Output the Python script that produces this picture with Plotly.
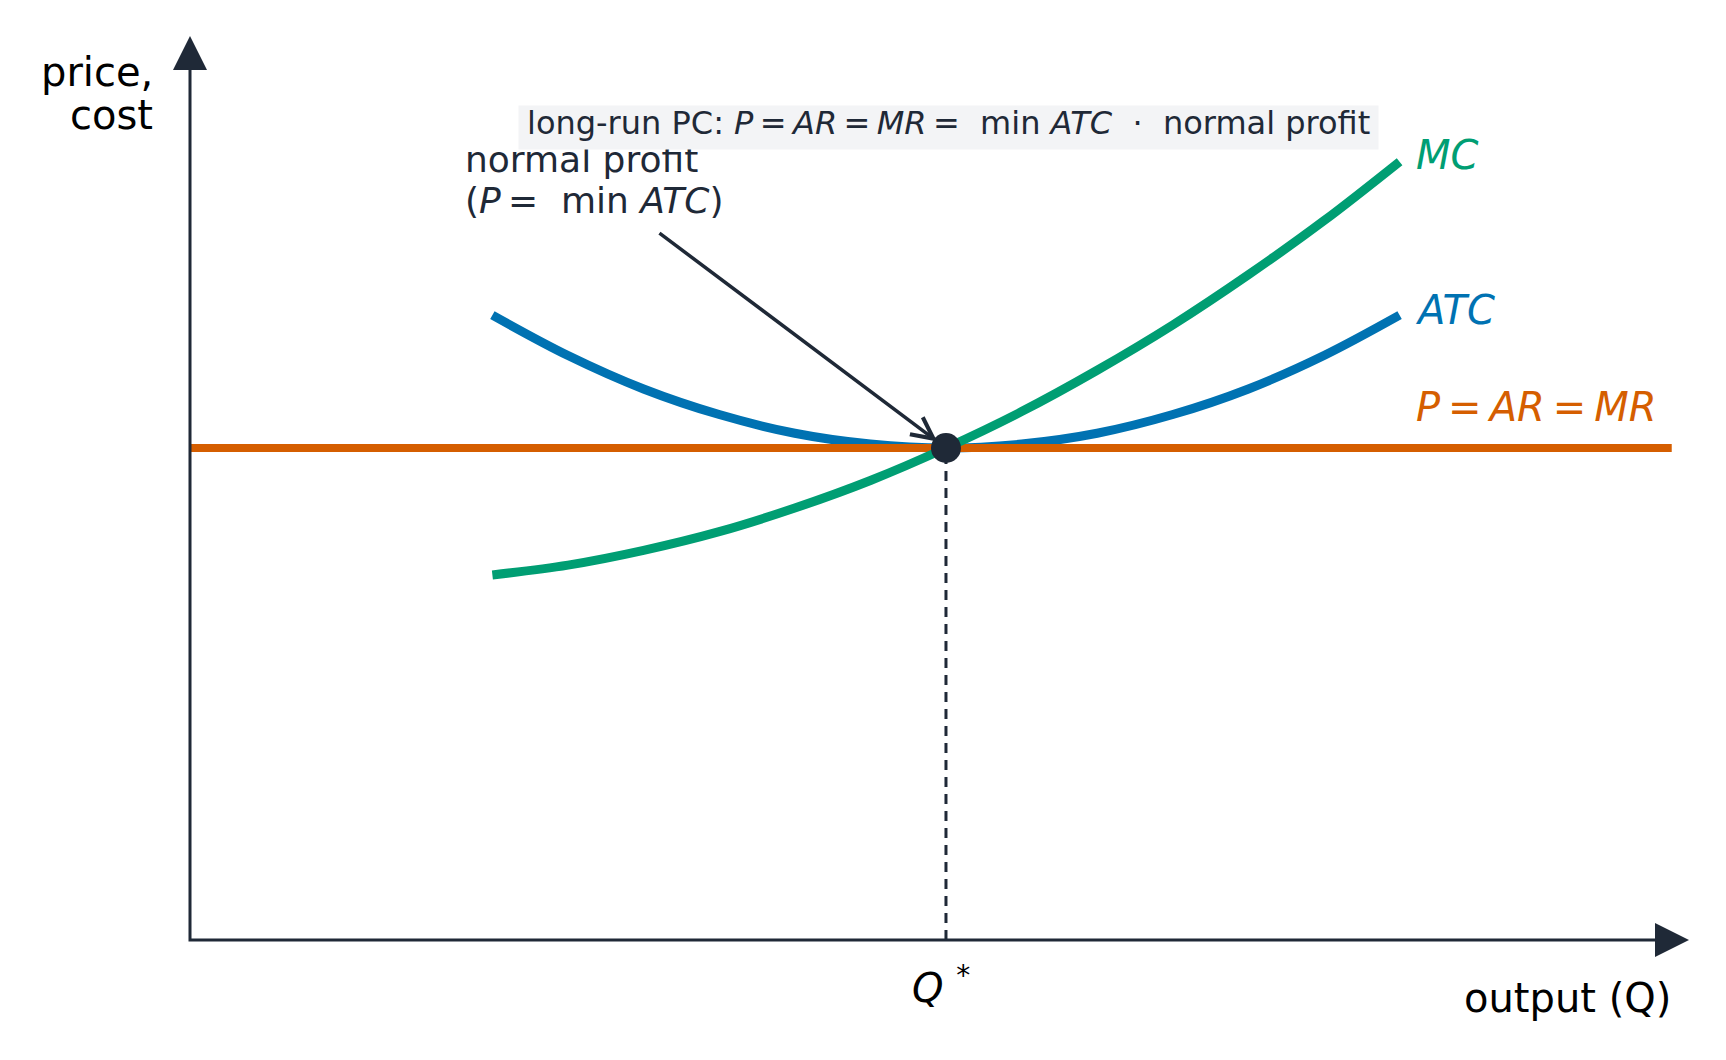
import plotly.graph_objects as go

# long-run perfect competition: firm's cost curves
quantity = [2.0, 2.5, 3.0, 3.5, 4.0, 4.5, 5.0, 5.5, 6.0, 6.5, 7.0, 7.5, 8.0]
atc = [6.35, 5.94, 5.60, 5.34, 5.15, 5.04, 5.00, 5.04, 5.15, 5.34, 5.60, 5.94, 6.35]
mc = [3.71, 3.81, 3.96, 4.15, 4.39, 4.67, 5.00, 5.37, 5.79, 6.25, 6.76, 7.31, 7.91]
price_q = [0.0, 9.8]
price = [5.0, 5.0]
q_star = 5.0
p_star = 5.0

#figure / axis set-up (data units <-> pixels); the page body adds an 8px margin
W, H = 1710, 1044
X_RANGE = [-1.2037, 10.106]
Y_RANGE = [-1.138, 9.4715]
px_x = (X_RANGE[1] - X_RANGE[0]) / W     # data units per pixel
px_y = (Y_RANGE[1] - Y_RANGE[0]) / H
Q_TIP = 9.914   # end of horizontal axis
P_TIP = 9.187   # end of vertical axis

DARK = '#1f2937'
GREEN = '#009E73'
BLUE = '#0072B2'
ORANGE = '#D55E00'
FONT = 'DejaVu Sans'
TS = '\u2009'   # thin space
NB = '\u00a0'

fig = go.Figure()

#curves
fig.add_trace(go.Scatter(x=quantity, y=atc, mode='lines',
                         line=dict(color=BLUE, width=9, shape='spline'),
                         hoverinfo='skip'))
fig.add_trace(go.Scatter(x=price_q, y=price, mode='lines',
                         line=dict(color=ORANGE, width=8),
                         hoverinfo='skip'))
fig.add_trace(go.Scatter(x=quantity, y=mc, mode='lines',
                         line=dict(color=GREEN, width=9, shape='spline'),
                         hoverinfo='skip'))

#dashed drop line to Q*
fig.add_trace(go.Scatter(x=[q_star, q_star], y=[0, p_star], mode='lines',
                         line=dict(color=DARK, width=3, dash='10px,7px'),
                         hoverinfo='skip'))

#axes with arrow heads
fig.add_trace(go.Scatter(x=[0, 0, Q_TIP - 20 * px_x], y=[P_TIP - 20 * px_y, 0, 0],
                         mode='lines', line=dict(color=DARK, width=3),
                         hoverinfo='skip'))
hw_x = 17 * px_x
hw_y = 17 * px_y
head = 34
fig.add_shape(type='path', xref='x', yref='y', line_width=0, fillcolor=DARK,
              path=f'M {-hw_x},{P_TIP - head * px_y} L {hw_x},{P_TIP - head * px_y} '
                   f'L 0,{P_TIP} Z')
fig.add_shape(type='path', xref='x', yref='y', line_width=0, fillcolor=DARK,
              path=f'M {Q_TIP - head * px_x},{-hw_y} L {Q_TIP - head * px_x},{hw_y} '
                   f'L {Q_TIP},0 Z')

#equilibrium point
fig.add_trace(go.Scatter(x=[q_star], y=[p_star], mode='markers',
                         marker=dict(color=DARK, size=30),
                         hoverinfo='skip'))

#arrow from the note to the point
fig.add_annotation(x=q_star, y=p_star, ax=3.095, ay=7.195, axref='x', ayref='y',
                   text='', showarrow=True, arrowhead=5, arrowsize=1.2,
                   arrowwidth=3.5, arrowcolor=DARK, standoff=11)

#note text
fig.add_annotation(x=1.806, y=7.93, text='normal profit', showarrow=False,
                   xanchor='left', yanchor='middle',
                   font=dict(family=FONT, size=36, color=DARK))
fig.add_annotation(x=1.806, y=7.52,
                   text=f'(<i>P</i>{TS}={NB} min <i>ATC</i>)', showarrow=False,
                   xanchor='left', yanchor='middle',
                   font=dict(family=FONT, size=36, color=DARK))

#curve labels
fig.add_annotation(x=quantity[-1], y=mc[-1], text='<i>MC</i>', showarrow=False,
                   xanchor='left', yanchor='middle', xshift=14, yshift=7,
                   font=dict(family=FONT, size=40, color=GREEN))
fig.add_annotation(x=quantity[-1], y=atc[-1], text='<i>ATC</i>', showarrow=False,
                   xanchor='left', yanchor='middle', xshift=13, yshift=5,
                   font=dict(family=FONT, size=40, color=BLUE))
fig.add_annotation(x=quantity[-1], y=price[-1],
                   text=f'<i>P</i>{TS}={TS}<i>AR</i>{TS}={TS}<i>MR</i>',
                   showarrow=False, xanchor='left', yanchor='middle',
                   xshift=14, yshift=41,
                   font=dict(family=FONT, size=40, color=ORANGE))

#axis labels
fig.add_annotation(x=-0.23, y=8.82, text='price,', showarrow=False,
                   xanchor='right', yanchor='middle',
                   font=dict(family=FONT, size=40, color='black'))
fig.add_annotation(x=-0.23, y=8.384, text='cost', showarrow=False,
                   xanchor='right', yanchor='middle',
                   font=dict(family=FONT, size=40, color='black'))
fig.add_annotation(x=9.81, y=-0.589, text='output (Q)', showarrow=False,
                   xanchor='right', yanchor='middle',
                   font=dict(family=FONT, size=40, color='black'))
fig.add_annotation(x=4.967, y=-0.457, text=f'<i>Q</i>{NB}<sup>*</sup>',
                   showarrow=False, xanchor='center', yanchor='middle',
                   font=dict(family=FONT, size=40, color='black'))

#title box (drawn after the note so it covers its top edge)
fig.add_annotation(x=5.017, y=8.257, text=NB, showarrow=False,
                   xanchor='center', yanchor='middle', bgcolor='#f3f4f6',
                   width=859, height=43, borderpad=0,
                   font=dict(family=FONT, size=20, color=DARK))
title = (f'long-run PC: <i>P</i>{TS}={TS}<i>AR</i>{TS}={TS}<i>MR</i>{TS}={NB} min '
         f'<i>ATC</i>{NB}{NB}·{NB}{NB}normal profit')
fig.add_annotation(x=5.017, y=8.30, text=title, showarrow=False,
                   xanchor='center', yanchor='middle',
                   font=dict(family=FONT, size=32, color=DARK))

fig.update_layout(width=W, height=H, showlegend=False,
                  margin=dict(l=0, r=0, t=0, b=0),
                  paper_bgcolor='white', plot_bgcolor='white',
                  xaxis=dict(range=X_RANGE, visible=False, fixedrange=True),
                  yaxis=dict(range=Y_RANGE, visible=False, fixedrange=True))

fig.write_html("out.html")
